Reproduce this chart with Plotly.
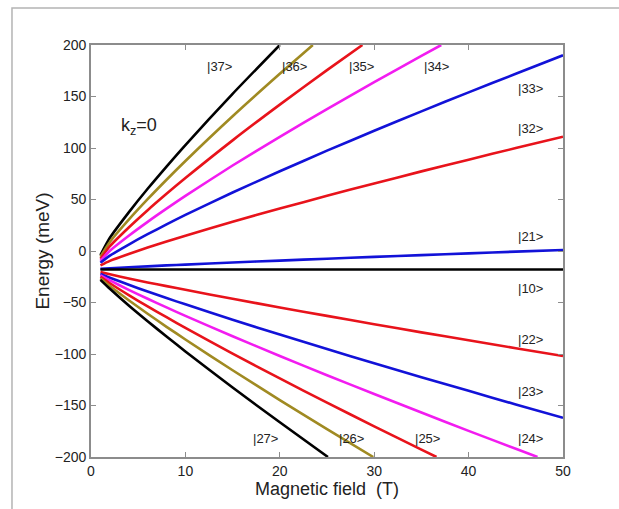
import plotly.graph_objects as go

# Landau-level energies vs magnetic field (k_z = 0)
field_b = [1, 2, 4, 6, 8, 10, 15, 20, 25, 30, 35, 40, 45, 50]

# upper fan
lvl_37_b = [1, 2, 4, 6, 8, 10, 15, 20]
lvl_37_e = [-4, 12.8, 37.5, 60.4, 82.0, 102.9, 152.6, 200]
lvl_36_b = [1, 2, 4, 6, 8, 10, 15, 20, 23.5]
lvl_36_e = [-5.5, 8.8, 30.4, 50.3, 69.2, 87.4, 130.8, 172.0, 200]
lvl_35_b = [1, 2, 4, 6, 8, 10, 15, 20, 25, 28.75]
lvl_35_e = [-7.5, 4.6, 22.8, 39.6, 55.5, 70.8, 107.4, 142.1, 175.6, 200]
lvl_34_b = [1, 2, 4, 6, 8, 10, 15, 20, 25, 30, 35, 37.1]
lvl_34_e = [-9.5, 0.2, 14.8, 28.3, 41.1, 53.5, 83.0, 110.9, 137.8, 163.9, 189.4, 200]
lvl_33_e = [-11.5, -4.5, 6.3, 16.3, 25.8, 35.0, 56.8, 77.4, 97.4, 116.7, 135.6, 154.0, 172.1, 190]
lvl_32_e = [-14, -9.6, -2.9, 3.3, 9.2, 14.8, 28.4, 41.2, 53.6, 65.6, 77.3, 88.7, 99.9, 111]
lvl_21_e = [-17.3, -16.8, -15.8, -14.9, -14.0, -13.2, -11.2, -9.3, -7.5, -5.7, -4.0, -2.3, -0.6, 1]
lvl_10_e = [-18] * 14

# lower fan
lvl_22_e = [-20.5, -22.6, -26.7, -30.5, -34.1, -37.7, -46.4, -54.8, -63.0, -71.1, -79.0, -86.7, -94.4, -102]
lvl_23_e = [-22.3, -25.9, -32.8, -39.4, -45.7, -51.8, -66.7, -81.1, -95.2, -109.0, -122.5, -135.8, -149.0, -162]
lvl_24_b = [1, 2, 4, 6, 8, 10, 15, 20, 25, 30, 35, 40, 45, 47.3]
lvl_24_e = [-23.7, -28.6, -37.7, -46.4, -54.8, -63.0, -82.8, -101.9, -120.6, -138.8, -156.8, -174.6, -192.0, -200]
lvl_25_b = [1, 2, 4, 6, 8, 10, 15, 20, 25, 30, 35, 36.6]
lvl_25_e = [-25.1, -31.3, -42.8, -53.8, -64.3, -74.6, -99.6, -123.7, -147.2, -170.2, -192.9, -200]
lvl_26_b = [1, 2, 4, 6, 8, 10, 15, 20, 25, 29.9]
lvl_26_e = [-26.6, -34.0, -47.8, -60.9, -73.6, -85.9, -115.8, -144.7, -172.9, -200]
lvl_27_b = [1, 2, 4, 6, 8, 10, 15, 20, 25.1]
lvl_27_e = [-28.0, -36.7, -52.9, -68.2, -83.0, -97.5, -132.5, -166.3, -200]

BLACK = "#000000"
OLIVE = "#a08a22"
RED = "#e8131b"
MAGENTA = "#f21cf0"
BLUE = "#1212d8"

curves = [
    ("|37>", lvl_37_b, lvl_37_e, BLACK),
    ("|36>", lvl_36_b, lvl_36_e, OLIVE),
    ("|35>", lvl_35_b, lvl_35_e, RED),
    ("|34>", lvl_34_b, lvl_34_e, MAGENTA),
    ("|33>", field_b, lvl_33_e, BLUE),
    ("|32>", field_b, lvl_32_e, RED),
    ("|21>", field_b, lvl_21_e, BLUE),
    ("|10>", field_b, lvl_10_e, BLACK),
    ("|22>", field_b, lvl_22_e, RED),
    ("|23>", field_b, lvl_23_e, BLUE),
    ("|24>", lvl_24_b, lvl_24_e, MAGENTA),
    ("|25>", lvl_25_b, lvl_25_e, RED),
    ("|26>", lvl_26_b, lvl_26_e, OLIVE),
    ("|27>", lvl_27_b, lvl_27_e, BLACK),
]

# state labels: (text, field, energy)
state_labels = [
    ("|37>", 12.1, 179), ("|36>", 20.0, 179), ("|35>", 27.1, 179), ("|34>", 35.1, 179),
    ("|33>", 45.0, 158), ("|32>", 45.0, 119), ("|21>", 45.0, 14), ("|10>", 45.0, -36),
    ("|22>", 45.0, -86), ("|23>", 45.0, -136), ("|24>", 45.0, -182),
    ("|25>", 34.1, -182), ("|26>", 26.1, -182), ("|27>", 17.0, -182),
]

FONT = "Liberation Sans, Arial"

fig = go.Figure()
for name, xb, ye, col in curves:
    fig.add_trace(go.Scatter(x=xb, y=ye, mode="lines", name=name,
                             line=dict(color=col, width=2.6, shape="spline", smoothing=0.6),
                             showlegend=False, hoverinfo="skip"))

for txt, bx, ey in state_labels:
    fig.add_annotation(x=bx, y=ey, text=txt, showarrow=False, xanchor="left", yanchor="middle",
                       font=dict(family=FONT, size=13, color="#222222"))

fig.add_annotation(x=3.0, y=121, text="k<sub>z</sub>=0", showarrow=False, xanchor="left",
                   yanchor="middle", font=dict(family=FONT, size=18, color="#222222"))

AXIS_COL = "#8c8c8c"
axis_common = dict(showgrid=False, zeroline=False, showline=True, linecolor=AXIS_COL, linewidth=1.6,
                   mirror="ticks", ticks="inside", ticklen=5, tickcolor=AXIS_COL, tickwidth=1.2,
                   tickfont=dict(family=FONT, size=14, color="#222222"))

fig.update_xaxes(range=[0, 50], tickvals=[0, 10, 20, 30, 40, 50],
                 title=dict(text="Magnetic field  (T)", standoff=4,
                            font=dict(family=FONT, size=18, color="#222222")),
                 **axis_common)
fig.update_yaxes(range=[-200, 200], tickvals=[-200, -150, -100, -50, 0, 50, 100, 150, 200],
                 title=dict(text="Energy (meV)", standoff=0,
                            font=dict(family=FONT, size=19, color="#222222")),
                 **axis_common)

# light outer frame around the figure
fig.add_shape(type="rect", xref="paper", yref="paper", x0=-0.1674, x1=1.135, y0=-0.145, y1=1.0898,
              line=dict(color="#b4b4b4", width=1.5), layer="below")

fig.update_layout(width=619, height=509, margin=dict(l=91, r=56, t=45, b=52),
                  paper_bgcolor="white", plot_bgcolor="white")

fig.write_html("out.html")
